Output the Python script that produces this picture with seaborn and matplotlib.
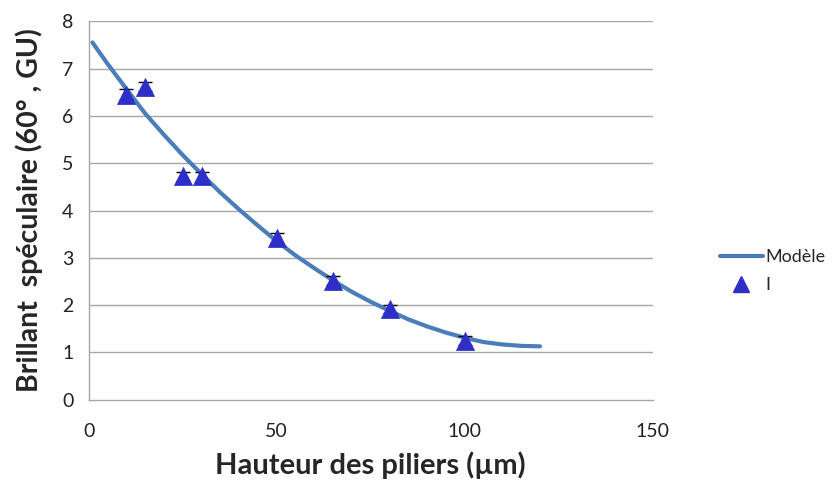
import numpy as np
import pandas as pd
import matplotlib.pyplot as plt
import seaborn as sns
from matplotlib.lines import Line2D

# Measured points (pillar height in µm, specular gloss in GU)
hauteur = [10, 15, 25, 30, 50, 65, 80, 100]
brillant = [6.45, 6.62, 4.72, 4.72, 3.42, 2.52, 1.92, 1.25]
erreur = [0.12, 0.10, 0.10, 0.10, 0.10, 0.10, 0.08, 0.10]

# Model curve
modele_x = [1, 5, 10, 15, 20, 25, 30, 35, 40, 45, 50, 55, 60,
            65, 70, 75, 80, 85, 90, 95, 100, 105, 110, 115, 120]
modele_y = [7.55, 7.10, 6.57, 6.05, 5.60, 5.17, 4.77, 4.38, 4.02, 3.68,
            3.35, 3.05, 2.78, 2.52, 2.28, 2.07, 1.88, 1.70, 1.55, 1.42,
            1.31, 1.22, 1.17, 1.14, 1.13]

sns.set_style("white")
plt.rcParams['font.family'] = ['Lato', 'DejaVu Sans']

fig = plt.figure(figsize=(8.37, 4.93), dpi=100)
ax = fig.add_axes([0.106, 0.189, 0.674, 0.768])

grid_col = '#a6a6a6'
for v in range(1, 9):
    ax.axhline(v, color=grid_col, lw=1, zorder=0)

df_mod = pd.DataFrame({'x': modele_x, 'y': modele_y})
sns.lineplot(data=df_mod, x='x', y='y', ax=ax, color='#4a7ebb', lw=3, zorder=2)

ax.errorbar(hauteur, brillant, yerr=erreur, fmt='none', ecolor='black',
            elinewidth=1, capsize=5, zorder=3)
df_pts = pd.DataFrame({'x': hauteur, 'y': brillant})
sns.scatterplot(data=df_pts, x='x', y='y', ax=ax, marker='^', s=170,
                color='#2e2ec9', edgecolor='#2e2ec9', linewidth=0.5, zorder=4)

ax.set_xlim(0, 150)
ax.set_ylim(0, 8)
ax.set_xticks([0, 50, 100, 150])
ax.set_yticks(range(0, 9))
for side in ['top', 'right']:
    ax.spines[side].set_visible(False)
for side in ['left', 'bottom']:
    ax.spines[side].set_color(grid_col)
    ax.spines[side].set_linewidth(1)
ax.tick_params(axis='both', direction='out', length=5, width=1, color=grid_col,
               labelsize=14, labelcolor='#222222', pad=6)
ax.tick_params(axis='x', pad=12)

ax.set_xlabel('Hauteur des piliers (µm)', fontsize=21, fontweight='bold', labelpad=8)
ax.set_ylabel('Brillant  spéculaire (60° , GU)', fontsize=20.5, fontweight='bold', labelpad=14)

handles = [Line2D([0], [0], color='#4a7ebb', lw=3),
           Line2D([0], [0], marker='^', color='#2e2ec9', ls='none', markersize=12)]
fig.legend(handles, ['Modèle', 'I'], loc='center left', bbox_to_anchor=(0.86, 0.45),
           frameon=False, fontsize=13, handlelength=2.4, handletextpad=0.15,
           labelspacing=0.7, borderpad=0, borderaxespad=0)

fig.savefig('out.png', dpi=100)
